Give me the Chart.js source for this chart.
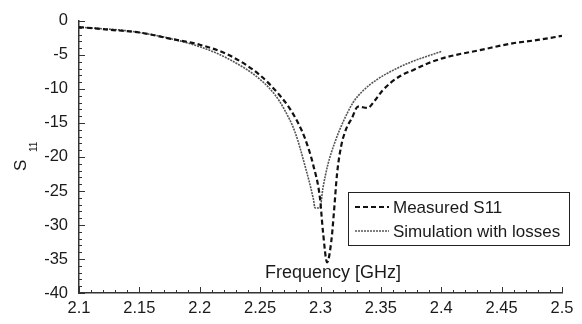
<!DOCTYPE html>
<html>
<head>
<meta charset="utf-8">
<script src="https://cdn.jsdelivr.net/npm/chart.js@4"></script>
<style>
  html, body { margin: 0; padding: 0; background: #fff; }
  #wrap { width: 582px; height: 324px; }
</style>
</head>
<body>
<div id="wrap"><canvas id="s11Chart" width="582" height="324"></canvas></div>
<script>
// values
var freqMeasured = [2.100, 2.125, 2.150, 2.175, 2.200, 2.225, 2.250, 2.266, 2.275, 2.282, 2.287, 2.294, 2.2996, 2.302, 2.3055,
                    2.309, 2.311, 2.3137, 2.317, 2.321, 2.326, 2.331, 2.339, 2.345, 2.351, 2.358, 2.366, 2.377, 2.391, 2.405,
                    2.432, 2.459, 2.480, 2.500];
var s11Measured = [-0.9, -1.3, -1.7, -2.6, -3.5, -5.1, -8.0, -10.9, -13.0, -15.2, -17.2, -21.2, -26.1, -30.9, -35.5,
                   -32.3, -28.4, -22.5, -18.5, -16.0, -14.3, -12.6, -12.8, -11.7, -10.3, -9.1, -8.1, -7.2, -6.1, -5.3,
                   -4.3, -3.3, -2.8, -2.2];

var freqSim = [2.100, 2.150, 2.200, 2.225, 2.250, 2.262, 2.270, 2.279, 2.287, 2.294, 2.2955, 2.2995, 2.302, 2.306,
               2.312, 2.3186, 2.327, 2.335, 2.347, 2.363, 2.377, 2.390, 2.400];
var s11Sim = [-0.9, -1.7, -3.8, -5.7, -8.6, -10.8, -13.0, -16.4, -21.2, -26.1, -27.5, -27.5, -24.6, -21.2,
              -17.8, -14.9, -12.0, -10.3, -8.6, -7.0, -5.9, -5.1, -4.5];

var xTicks = [2.1, 2.15, 2.2, 2.25, 2.3, 2.35, 2.4, 2.45, 2.5];
var yTicks = [0, -5, -10, -15, -20, -25, -30, -35, -40];
var seriesNames = ['Measured S11', 'Simulation with losses'];

function toPoints(xs, ys) {
  var pts = [];
  for (var i in xs) {
    pts.push({x: xs[i], y: ys[i]});
  }
  return pts;
}

var textColor = '#1a1a1a';
var axisColor = '#333';
var fontFamily = '"Liberation Sans", Arial, sans-serif';

// tick marks pointing into the plot, plus minor ticks
var innerTicks = {
  id: 'innerTicks',
  afterDraw: function(chart) {
    var ctx = chart.ctx;
    var xs = chart.scales.x, ys = chart.scales.y;
    var area = chart.chartArea;
    ctx.save();
    ctx.strokeStyle = axisColor;
    ctx.lineWidth = 1;
    ctx.beginPath();
    for (var i = 0; i <= 40; i++) {
      var f = 2.1 + i * 0.01;
      var px = Math.round(xs.getPixelForValue(f)) + 0.5;
      var len = (i % 5 === 0) ? 6 : 3;
      ctx.moveTo(px, area.bottom);
      ctx.lineTo(px, area.bottom - len);
    }
    for (var j = 0; j <= 40; j++) {
      var py = Math.round(ys.getPixelForValue(-j)) + 0.5;
      var l2 = (j % 5 === 0) ? 6 : 3;
      ctx.moveTo(area.left, py);
      ctx.lineTo(area.left + l2, py);
    }
    ctx.stroke();
    ctx.restore();
  }
};

// axis titles and boxed legend drawn in place
var annotations = {
  id: 'annotations',
  afterDraw: function(chart) {
    var ctx = chart.ctx;
    ctx.save();
    ctx.fillStyle = textColor;
    ctx.textBaseline = 'middle';
    ctx.textAlign = 'left';
    ctx.font = '18px ' + fontFamily;
    ctx.fillText('Frequency [GHz]', 265, 273);

    // S with subscript 11, rotated
    ctx.save();
    ctx.translate(26, 171);
    ctx.rotate(-Math.PI / 2);
    ctx.textBaseline = 'alphabetic';
    ctx.font = '17px ' + fontFamily;
    ctx.fillText('S', 0, 0);
    ctx.font = '10px ' + fontFamily;
    ctx.fillText('11', 19, 11);
    ctx.restore();

    // legend box
    ctx.fillStyle = '#fff';
    ctx.fillRect(348.5, 192.5, 221, 53);
    ctx.strokeStyle = '#222';
    ctx.lineWidth = 1;
    ctx.strokeRect(348.5, 192.5, 221, 53);
    var rows = [207, 231];
    chart.data.datasets.forEach(function(ds, k) {
      ctx.save();
      ctx.strokeStyle = ds.borderColor;
      ctx.lineWidth = ds.borderWidth;
      ctx.setLineDash(ds.borderDash);
      ctx.beginPath();
      ctx.moveTo(355, rows[k]);
      ctx.lineTo(389, rows[k]);
      ctx.stroke();
      ctx.restore();
      ctx.fillStyle = textColor;
      ctx.font = '17px ' + fontFamily;
      ctx.fillText(ds.label, 393, rows[k] + 1);
    });
    ctx.restore();
  }
};

var ctx = document.getElementById('s11Chart');
var s11Chart = new Chart(ctx, {
  type: 'line',
  data: {
    datasets: [{
      label: seriesNames[0],
      data: toPoints(freqMeasured, s11Measured),
      borderColor: '#111',
      borderWidth: 2.2,
      borderDash: [5, 3],
      pointRadius: 0,
      cubicInterpolationMode: 'monotone',
      fill: false
    }, {
      label: seriesNames[1],
      data: toPoints(freqSim, s11Sim),
      borderColor: '#555',
      borderWidth: 1.6,
      borderDash: [2, 1],
      pointRadius: 0,
      cubicInterpolationMode: 'monotone',
      fill: false
    }]
  },
  options: {
    responsive: false,
    animation: false,
    layout: { padding: { top: 17, right: 20, left: 0, bottom: 0 } },
    plugins: {
      legend: { display: false },
      tooltip: { enabled: false }
    },
    scales: {
      x: {
        type: 'linear',
        min: 2.1,
        max: 2.5,
        afterFit: function(scale) { scale.height = 31; },
        afterBuildTicks: function(scale) {
          scale.ticks = xTicks.map(function(v) { return {value: v}; });
        },
        grid: { display: true, drawOnChartArea: false, drawTicks: false },
        border: { display: true, color: axisColor, width: 1.5 },
        ticks: {
          padding: 6,
          color: textColor,
          maxRotation: 0,
          autoSkip: false,
          font: { family: fontFamily, size: 16.5 },
          callback: function(v) { return String(Math.round(v * 100) / 100); }
        }
      },
      y: {
        min: -40,
        max: 0,
        afterFit: function(scale) { scale.width = 79; },
        afterBuildTicks: function(scale) {
          scale.ticks = yTicks.map(function(v) { return {value: v}; });
        },
        grid: { display: true, drawOnChartArea: false, drawTicks: false },
        border: { display: true, color: axisColor, width: 1.5 },
        ticks: {
          padding: 11,
          color: textColor,
          autoSkip: false,
          font: { family: fontFamily, size: 16.5 }
        }
      }
    }
  },
  plugins: [innerTicks, annotations]
});
</script>
</body>
</html>
